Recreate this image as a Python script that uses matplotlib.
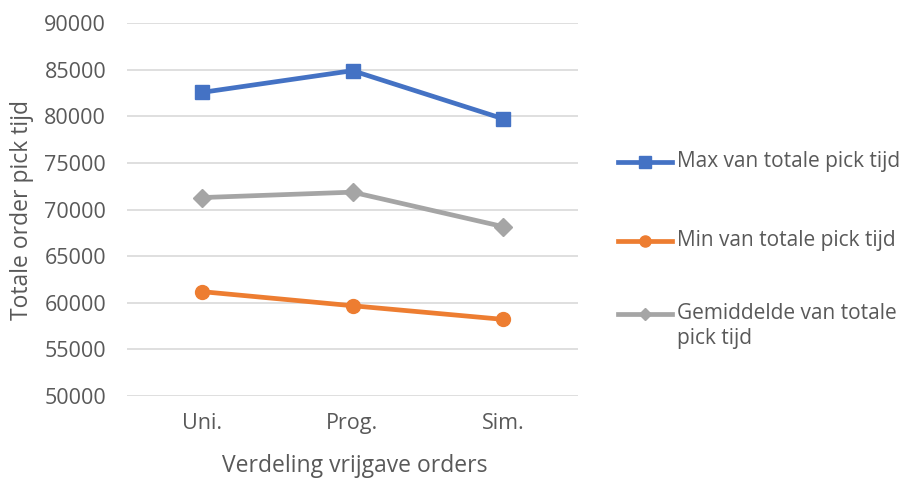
import matplotlib
matplotlib.use("Agg")
import matplotlib.pyplot as plt
from matplotlib.lines import Line2D

categories = ["Uni.", "Prog.", "Sim."]
max_values = [82560, 84890, 79740]
min_values = [61190, 59680, 58220]
avg_values = [71280, 71860, 68170]
y_ticks = [50000, 55000, 60000, 65000, 70000, 75000, 80000, 85000, 90000]

series_labels = ["Max van totale pick tijd", "Min van totale pick tijd",
                 "Gemiddelde van totale\npick tijd"]
series_colors = ["#4472C4", "#ED7D31", "#A5A5A5"]
series_markers = ["s", "o", "D"]

plt.rcParams['font.family'] = ['Open Sans', 'DejaVu Sans']
text_color = "#595959"

W, H = 908, 482
fig = plt.figure(figsize=(W / 100, H / 100), dpi=100)
ax = fig.add_axes([127 / W, 1 - 396 / H, 451 / W, 373 / H])

x = list(range(len(categories)))
for vals, c, m in zip([max_values, min_values, avg_values], series_colors, series_markers):
    ax.plot(x, vals, color=c, lw=3.4, marker=m, ms=10 if m != "D" else 9, zorder=3)

ax.set_xlim(-0.5, 2.5)
ax.set_ylim(50000, 90000)
ax.set_yticks(y_ticks)
ax.set_yticklabels([str(v) for v in y_ticks])
ax.set_xticks(x)
ax.set_xticklabels(categories)
ax.grid(axis="y", color="#D9D9D9", lw=1.2)
ax.set_axisbelow(True)
for s in ax.spines.values():
    s.set_visible(False)
ax.tick_params(axis="both", length=0, labelsize=15.5, colors=text_color)
ax.tick_params(axis="y", pad=15)
ax.tick_params(axis="x", pad=12)

fig.text(22 / W, 1 - 210 / H, "Totale order pick tijd", rotation=90, fontsize=16.5,
         color=text_color, ha="center", va="center")
fig.text(355 / W, 1 - 466 / H, "Verdeling vrijgave orders", fontsize=16.5,
         color=text_color, ha="center", va="center")

# Legend entries drawn in figure pixel positions
legend_rows = [162, 241, 314]
for lbl, c, m, yy in zip(series_labels, series_colors, series_markers, legend_rows):
    yf = 1 - yy / H
    fig.add_artist(Line2D([618 / W, 672 / W], [yf, yf], color=c, lw=3.4,
                          transform=fig.transFigure))
    fig.add_artist(Line2D([645 / W], [yf], color=c, marker=m,
                          ms=8 if m != "D" else 6, transform=fig.transFigure))
    fig.text(677 / W, yf, lbl, fontsize=15, color=text_color, ha="left", va="top",
             linespacing=1.25, transform=fig.transFigure,
             bbox=None).set_y(yf + 11 / H)

fig.savefig("out.png", dpi=100, facecolor="white")
